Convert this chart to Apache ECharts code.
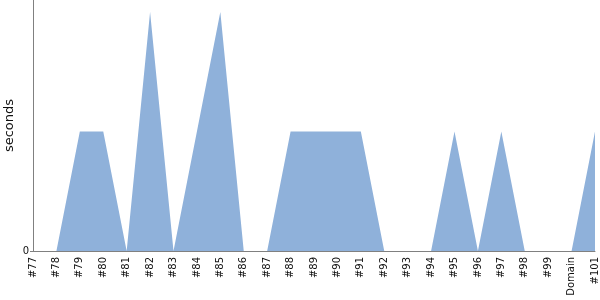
<!DOCTYPE html>
<html><head><meta charset="utf-8">
<script src="https://cdn.jsdelivr.net/npm/echarts@6/dist/echarts.min.js"></script>
<style>html,body{margin:0;padding:0;background:#fff}#c{width:600px;height:300px}</style>
</head><body><div id="c"></div>
<script>
var categories = ['#77','#78','#79','#80','#81','#82','#83','#84','#85','#86','#87','#88','#89','#90','#91','#92','#93','#94','#95','#96','#97','#98','#99','Domain','#101'];
var seconds = [0,0,1,1,0,2,0,1,2,0,0,1,1,1,1,0,0,0,1,0,1,0,0,0,1];
var yTicks = [0];
var chart = echarts.init(document.getElementById('c'), null, {renderer:'canvas'});
chart.setOption({
  animation:false,
  grid:{left:33,right:5,top:0,bottom:49,containLabel:false,outerBoundsMode:'none'},
  xAxis:{type:'category',data:categories,boundaryGap:false,
    axisLine:{lineStyle:{color:'#808080',width:1}},
    axisTick:{show:false},
    axisLabel:{rotate:90,interval:0,fontFamily:'DejaVu Sans',fontSize:10,color:'#111',margin:6}},
  yAxis:{type:'value',min:0,max:2.1,
    name:'seconds',nameLocation:'middle',nameGap:17,nameRotate:90,nameMoveOverlap:false,
    nameTextStyle:{fontFamily:'DejaVu Sans',fontSize:13,color:'#111'},
    axisLine:{show:true,lineStyle:{color:'#808080',width:1}},
    axisTick:{show:true,length:3,customValues:yTicks,lineStyle:{color:'#808080'}},
    splitLine:{show:false},
    axisLabel:{fontFamily:'DejaVu Sans',fontSize:10,color:'#111',margin:4,customValues:yTicks}},
  series:[{type:'line',data:seconds,symbol:'none',
    lineStyle:{width:0},
    areaStyle:{color:'#8fb1da',opacity:1}}]
});
</script></body></html>
